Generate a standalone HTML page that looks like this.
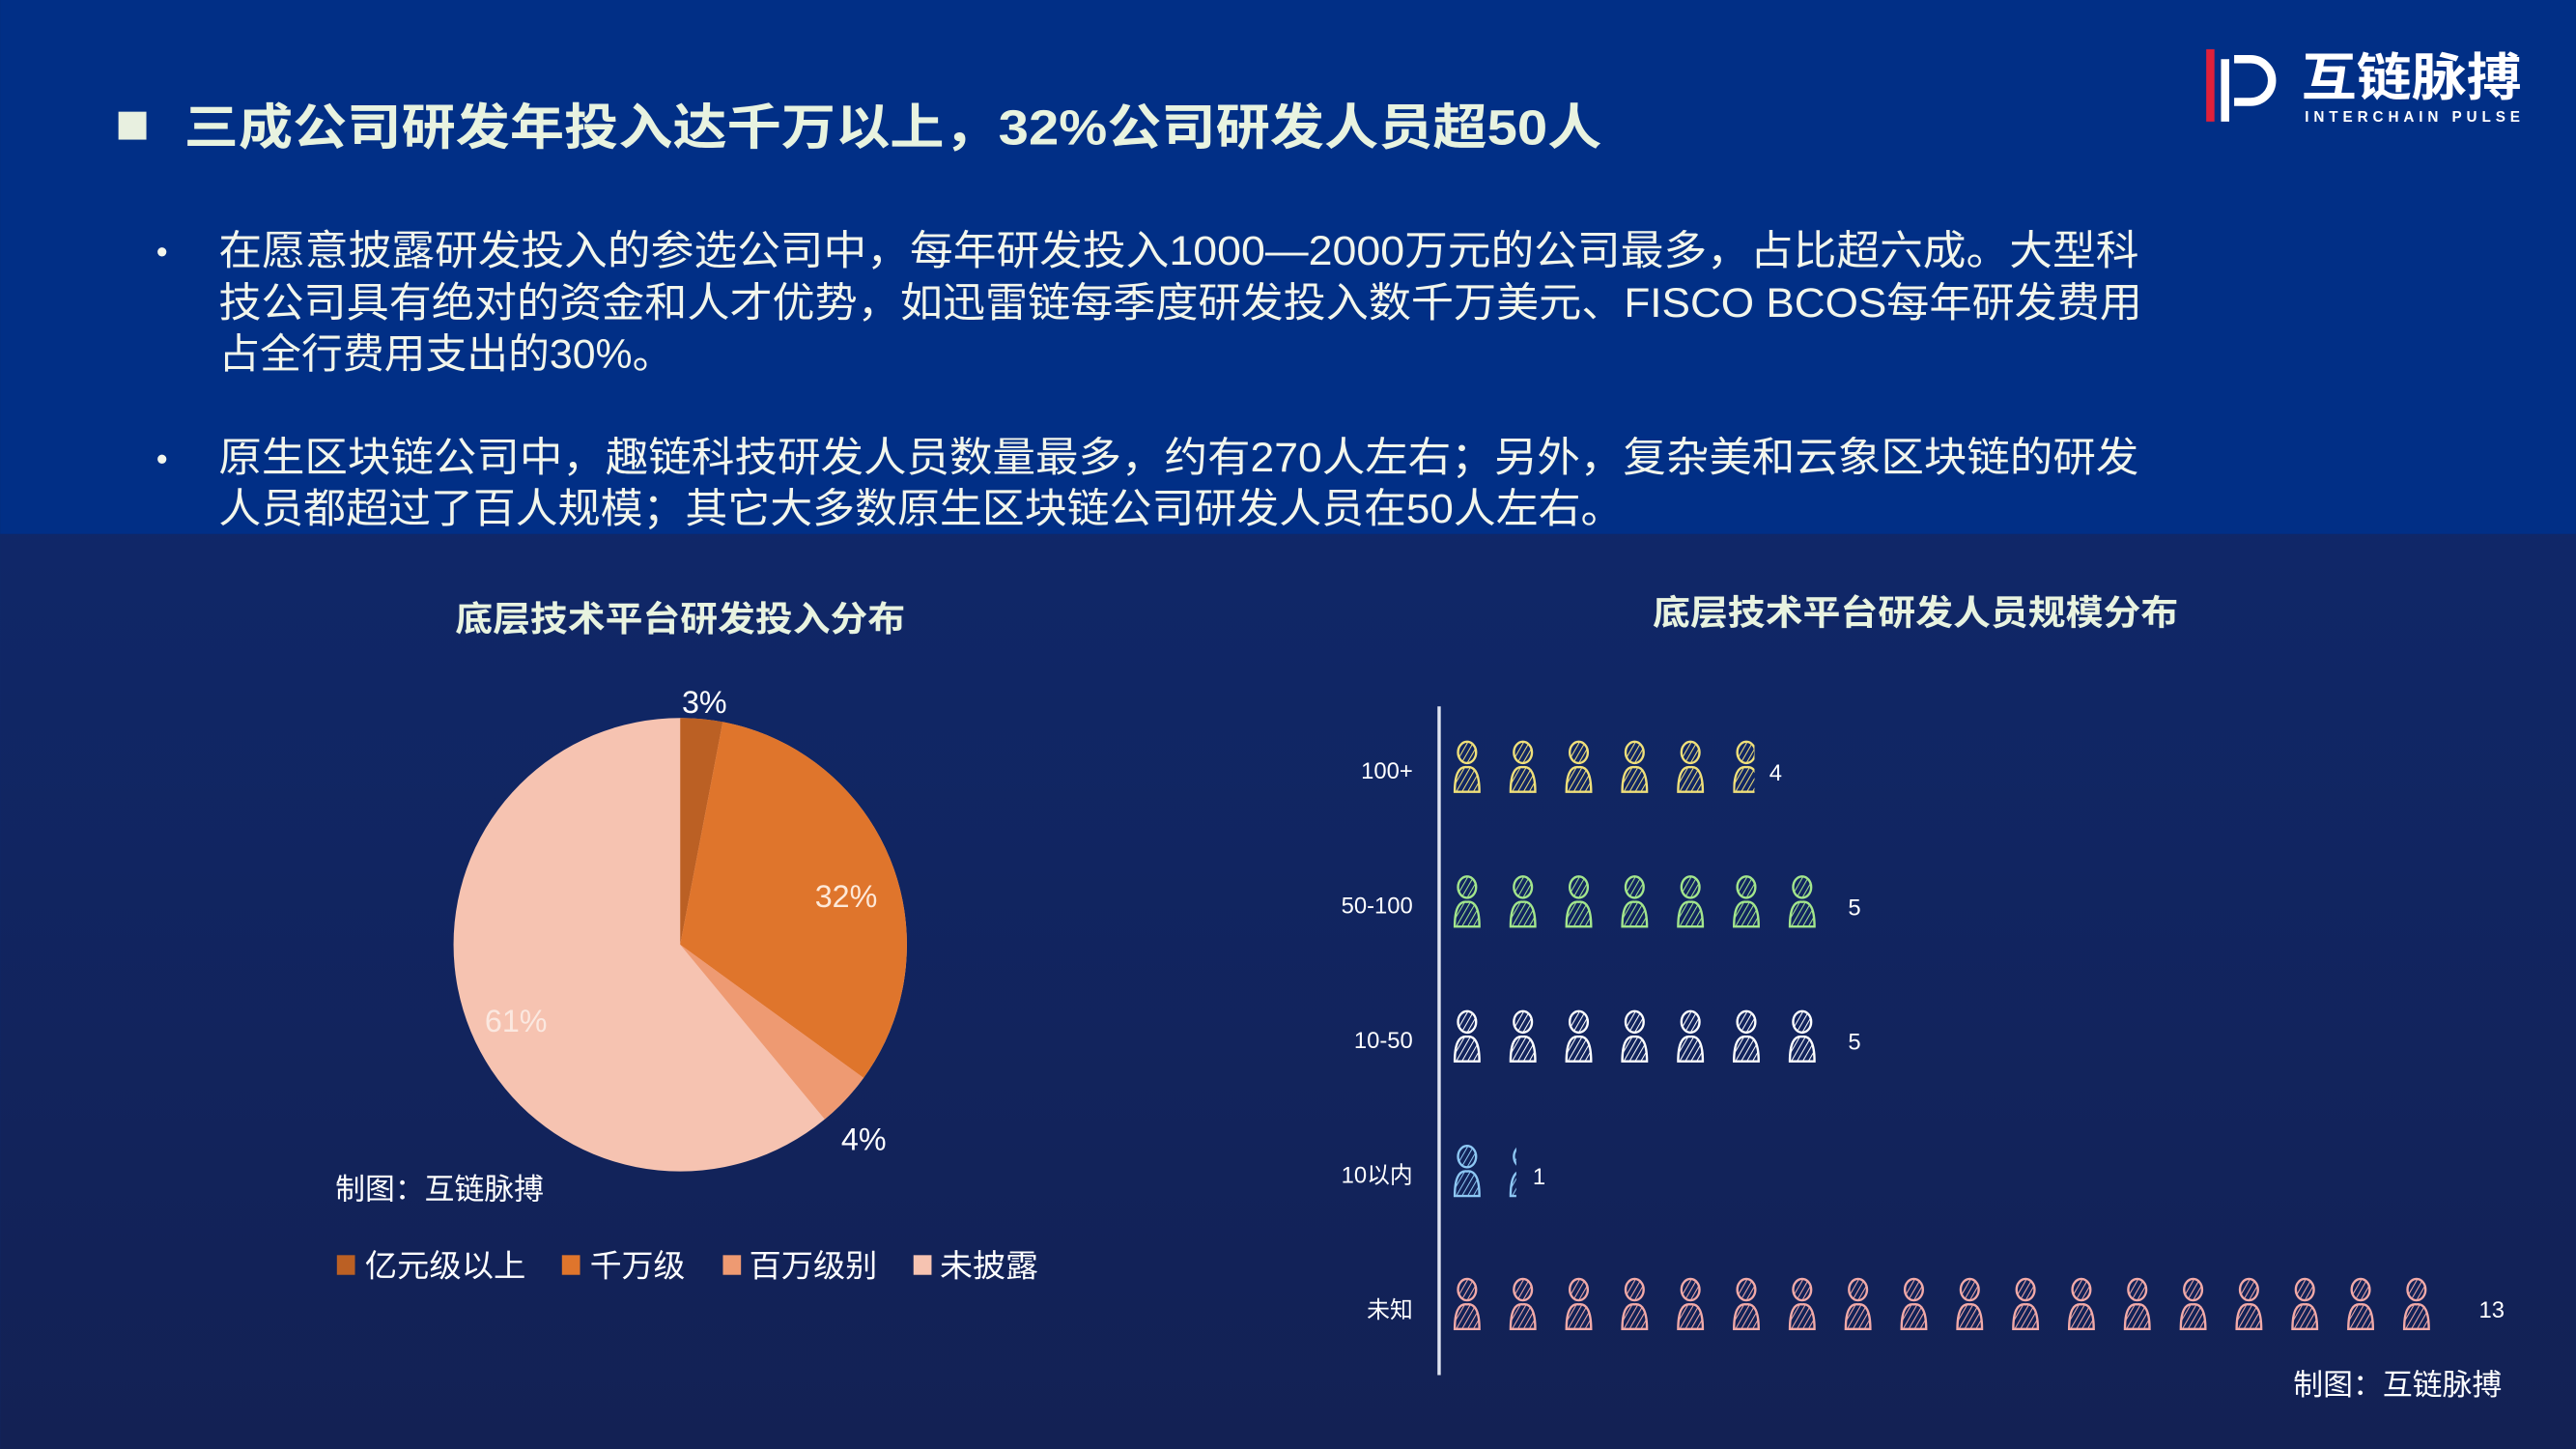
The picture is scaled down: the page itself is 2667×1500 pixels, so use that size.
<!DOCTYPE html>
<html><head><meta charset="utf-8"><style>
html,body{margin:0;padding:0;background:#0c2a6c}
svg{display:block}
text{font-family:"Liberation Sans","Noto Sans CJK SC",sans-serif}
</style></head><body>
<svg width="2667" height="1500" viewBox="0 0 1568 882" xmlns="http://www.w3.org/2000/svg">
<defs>
<linearGradient id="bg" x1="0" y1="0" x2="0" y2="1">
<stop offset="0" stop-color="#0e2b74"/><stop offset="1" stop-color="#132154"/>
</linearGradient>
<pattern id="pY" width="3" height="3" patternUnits="userSpaceOnUse" patternTransform="rotate(30)"><line x1="0" y1="0" x2="0" y2="3" stroke="#f0e07a" stroke-width="1.2"/></pattern>
<pattern id="pG" width="3" height="3" patternUnits="userSpaceOnUse" patternTransform="rotate(30)"><line x1="0" y1="0" x2="0" y2="3" stroke="#a3e68c" stroke-width="1.2"/></pattern>
<pattern id="pW" width="3" height="3" patternUnits="userSpaceOnUse" patternTransform="rotate(30)"><line x1="0" y1="0" x2="0" y2="3" stroke="#ffffff" stroke-width="1.2"/></pattern>
<pattern id="pB" width="3" height="3" patternUnits="userSpaceOnUse" patternTransform="rotate(30)"><line x1="0" y1="0" x2="0" y2="3" stroke="#8ec8f4" stroke-width="1.2"/></pattern>
<pattern id="pP" width="3" height="3" patternUnits="userSpaceOnUse" patternTransform="rotate(30)"><line x1="0" y1="0" x2="0" y2="3" stroke="#f2aaa8" stroke-width="1.2"/></pattern>
<g id="man">
<ellipse cx="0" cy="-12" rx="5.5" ry="6.5"/>
<path d="M-7.5 12 Q-7.5 -4 0 -3 Q7.5 -4 7.5 12 Z"/>
</g>
</defs>
<rect width="1568" height="882" fill="url(#bg)"/>
<rect width="1568" height="325" fill="#012f86"/>

<!-- logo -->
<rect x="1343" y="30" width="5" height="44" fill="#e0203a"/>
<rect x="1352" y="36" width="5" height="38" fill="#fff"/>
<path d="M1360 36 h10 a13 13 0 0 1 0 26 h-10" fill="none" stroke="#fff" stroke-width="5"/>
<text x="1401" y="58" font-size="31" font-weight="bold" fill="#fff" textLength="134" lengthAdjust="spacingAndGlyphs">互链脉搏</text>
<text x="1403" y="74" font-size="9" font-weight="bold" fill="#fff" textLength="131" lengthAdjust="spacing">INTERCHAIN PULSE</text>

<!-- title -->
<rect x="72" y="68" width="17" height="17" fill="#e8f0e0"/>
<text x="112" y="88" font-size="30" font-weight="bold" fill="#e8f3e0" textLength="863" lengthAdjust="spacingAndGlyphs">三成公司研发年投入达千万以上，32%公司研发人员超50人</text>

<g font-size="25" fill="#f2f6ec">
<text x="95" y="160" font-size="20">•</text>
<text x="133" y="161" textLength="1169" lengthAdjust="spacingAndGlyphs">在愿意披露研发投入的参选公司中，每年研发投入1000—2000万元的公司最多，占比超六成。大型科</text>
<text x="133" y="193" textLength="1171" lengthAdjust="spacingAndGlyphs">技公司具有绝对的资金和人才优势，如迅雷链每季度研发投入数千万美元、FISCO BCOS每年研发费用</text>
<text x="133" y="224" textLength="277" lengthAdjust="spacingAndGlyphs">占全行费用支出的30%。</text>
<text x="95" y="286" font-size="20">•</text>
<text x="133" y="287" textLength="1169" lengthAdjust="spacingAndGlyphs">原生区块链公司中，趣链科技研发人员数量最多，约有270人左右；另外，复杂美和云象区块链的研发</text>
<text x="133" y="318" textLength="855" lengthAdjust="spacingAndGlyphs">人员都超过了百人规模；其它大多数原生区块链公司研发人员在50人左右。</text>
</g>

<!-- pie -->
<text x="277" y="384" font-size="21" font-weight="bold" fill="#e8f3e0" textLength="274" lengthAdjust="spacingAndGlyphs">底层技术平台研发投入分布</text>
<circle cx="414" cy="575" r="138" fill="#f6c3b1"/>
<path d="M414 575 L414 437 A138 138 0 0 1 439.9 439.4 Z" fill="#bb6024"/>
<path d="M414 575 L439.9 439.4 A138 138 0 0 1 525.6 656.1 Z" fill="#df752c"/>
<path d="M414 575 L525.6 656.1 A138 138 0 0 1 502 681.3 Z" fill="#ee9a72"/>
<g font-size="19" fill="#fff">
<text x="415" y="434">3%</text>
<text x="496" y="552" fill="#fde8d8">32%</text>
<text x="512" y="700">4%</text>
<text x="295" y="628" fill="#fbe8e0">61%</text>
</g>
<text x="204" y="730" font-size="18" fill="#fff" textLength="127" lengthAdjust="spacingAndGlyphs">制图：互链脉搏</text>
<g font-size="19" fill="#fff">
<rect x="205" y="764" width="11" height="12" fill="#bb6024"/><text x="222" y="777" textLength="98" lengthAdjust="spacingAndGlyphs">亿元级以上</text>
<rect x="342" y="764" width="11" height="12" fill="#df752c"/><text x="359" y="777" textLength="58" lengthAdjust="spacingAndGlyphs">千万级</text>
<rect x="440" y="764" width="11" height="12" fill="#ee9a72"/><text x="456" y="777" textLength="78" lengthAdjust="spacingAndGlyphs">百万级别</text>
<rect x="556" y="764" width="11" height="12" fill="#f6c3b1"/><text x="572" y="777" textLength="60" lengthAdjust="spacingAndGlyphs">未披露</text>
</g>

<!-- pictogram -->
<text x="1006" y="380" font-size="21" font-weight="bold" fill="#e8f3e0" textLength="320" lengthAdjust="spacingAndGlyphs">底层技术平台研发人员规模分布</text>
<line x1="876" y1="430" x2="876" y2="837" stroke="#dfe4f0" stroke-width="2"/>
<g font-size="14" fill="#fff" text-anchor="end">
<text x="860" y="474">100+</text>
<text x="860" y="556">50-100</text>
<text x="860" y="638">10-50</text>
<text x="860" y="720">10以内</text>
<text x="860" y="802">未知</text>
</g>
<g stroke-width="1.4">
<g stroke="#f0e07a" fill="url(#pY)">
<use href="#man" x="893" y="470"/><use href="#man" x="927" y="470"/><use href="#man" x="961" y="470"/><use href="#man" x="995" y="470"/><use href="#man" x="1029" y="470"/>
<svg x="1055" y="450" width="13" height="40" overflow="hidden"><use href="#man" x="8" y="20"/></svg>
</g>
<g stroke="#a3e68c" fill="url(#pG)">
<use href="#man" x="893" y="552"/><use href="#man" x="927" y="552"/><use href="#man" x="961" y="552"/><use href="#man" x="995" y="552"/><use href="#man" x="1029" y="552"/><use href="#man" x="1063" y="552"/><use href="#man" x="1097" y="552"/>
</g>
<g stroke="#ffffff" fill="url(#pW)">
<use href="#man" x="893" y="634"/><use href="#man" x="927" y="634"/><use href="#man" x="961" y="634"/><use href="#man" x="995" y="634"/><use href="#man" x="1029" y="634"/><use href="#man" x="1063" y="634"/><use href="#man" x="1097" y="634"/>
</g>
<g stroke="#8ec8f4" fill="url(#pB)">
<use href="#man" x="893" y="716"/>
<svg x="918" y="696" width="5" height="40" overflow="hidden"><use href="#man" x="9" y="20"/></svg>
</g>
<g stroke="#f2aaa8" fill="url(#pP)">
<use href="#man" x="893" y="797"/><use href="#man" x="927" y="797"/><use href="#man" x="961" y="797"/><use href="#man" x="995" y="797"/><use href="#man" x="1029" y="797"/><use href="#man" x="1063" y="797"/><use href="#man" x="1097" y="797"/><use href="#man" x="1131" y="797"/><use href="#man" x="1165" y="797"/><use href="#man" x="1199" y="797"/><use href="#man" x="1233" y="797"/><use href="#man" x="1267" y="797"/><use href="#man" x="1301" y="797"/><use href="#man" x="1335" y="797"/><use href="#man" x="1369" y="797"/><use href="#man" x="1403" y="797"/><use href="#man" x="1437" y="797"/><use href="#man" x="1471" y="797"/>
</g>
</g>
<g font-size="14" fill="#fff">
<text x="1077" y="475">4</text>
<text x="1125" y="557">5</text>
<text x="1125" y="639">5</text>
<text x="933" y="721">1</text>
<text x="1509" y="802">13</text>
</g>
<text x="1396" y="849" font-size="18" fill="#fff" textLength="127" lengthAdjust="spacingAndGlyphs">制图：互链脉搏</text>
</svg>
</body></html>
